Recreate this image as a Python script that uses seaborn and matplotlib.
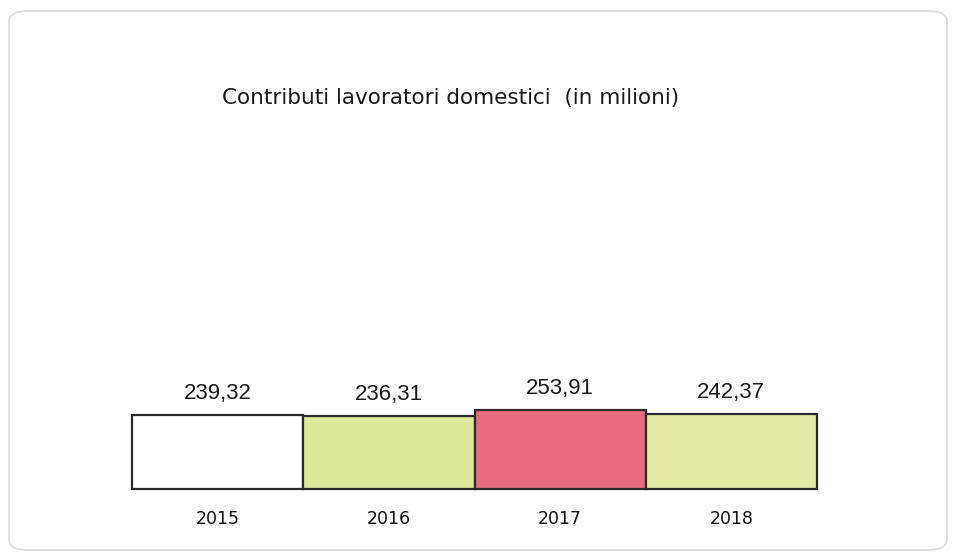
import matplotlib
matplotlib.use("Agg")
import matplotlib.pyplot as plt
import seaborn as sns
from matplotlib.patches import FancyBboxPatch

years = ["2015", "2016", "2017", "2018"]
values = [239.32, 236.31, 253.91, 242.37]
value_labels = ["239,32", "236,31", "253,91", "242,37"]
bar_colors = ["#ffffff", "#dbe89a", "#ea6a80", "#e2eaa6"]
title = "Contributi lavoratori domestici  (in milioni)"

sns.set_theme(style="white")
plt.rcParams["font.family"] = ["DejaVu Sans"]

W, H = 956, 559
fig = plt.figure(figsize=(W / 100, H / 100), dpi=100)
fig.patch.set_facecolor("white")

# rounded frame
frame = FancyBboxPatch((9 / W, 9 / H), (W - 18) / W, (H - 20) / H,
                       boxstyle="round,pad=0,rounding_size=0.02",
                       transform=fig.transFigure, facecolor="none",
                       edgecolor="#dcdcdc", linewidth=1.2, zorder=-1)
fig.patches.append(frame)

ax = fig.add_axes([132 / W, 1 - 489 / H, 685 / W, 360 / H])
ax.set_facecolor("none")
ax.set_zorder(2)

sns.barplot(x=years, y=values, hue=years, palette=bar_colors, width=1.0,
            legend=False, edgecolor="#2b2b2b", linewidth=1.6, ax=ax,
            saturation=1)
for p in ax.patches:
    p.set_clip_on(False)

ax.set_xlim(-0.5, 3.5)
ax.set_ylim(0, 1161)

for cont, lab in zip(ax.containers, value_labels):
    ax.bar_label(cont, labels=[lab], padding=8, fontsize=16,
                 family="Liberation Sans", color="#1a1a1a")

for s in ax.spines.values():
    s.set_visible(False)
ax.set_yticks([])
ax.set_xlabel("")
ax.set_ylabel("")
ax.tick_params(axis="x", length=0, pad=15, labelsize=12.5, labelcolor="#111111")

fig.text(222 / W, 1 - 98 / H, title, fontsize=15.5, va="center", ha="left",
         color="#1a1a1a", family="DejaVu Sans")

fig.savefig("out.png", dpi=100)
